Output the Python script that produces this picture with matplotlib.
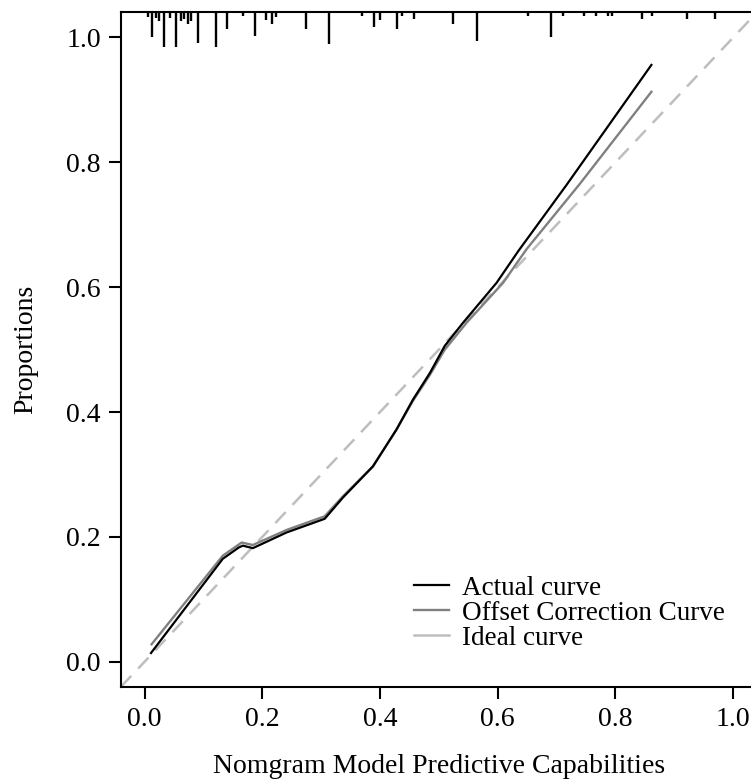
import matplotlib
matplotlib.use("Agg")
import matplotlib.pyplot as plt
import numpy as np

plt.rcParams['font.family'] = ['Liberation Serif', 'DejaVu Serif']

# calibration curves
actual_x = [0.011, 0.133, 0.160, 0.167, 0.184, 0.241, 0.306, 0.337, 0.388, 0.428,
            0.456, 0.485, 0.510, 0.541, 0.598, 0.635, 0.717, 0.861]
actual_y = [0.014, 0.165, 0.183, 0.186, 0.182, 0.207, 0.229, 0.263, 0.313, 0.372,
            0.420, 0.463, 0.506, 0.543, 0.607, 0.658, 0.764, 0.956]

offset_x = [0.012, 0.133, 0.165, 0.184, 0.241, 0.306, 0.337, 0.388, 0.428, 0.456,
            0.485, 0.510, 0.547, 0.609, 0.649, 0.739, 0.861]
offset_y = [0.028, 0.170, 0.191, 0.187, 0.211, 0.233, 0.265, 0.313, 0.372, 0.418,
            0.460, 0.500, 0.543, 0.607, 0.661, 0.765, 0.913]

# rug of predicted values along the top (position, relative frequency)
rug_x = [0.0056, 0.0124, 0.0199, 0.0243, 0.0323, 0.0425, 0.0527, 0.0617, 0.0663, 0.0731,
         0.0794, 0.0901, 0.1207, 0.1399, 0.1671, 0.1870, 0.2069, 0.2171, 0.2239, 0.2749,
         0.3128, 0.3700, 0.3898, 0.3995, 0.4289, 0.4380, 0.4572, 0.5241, 0.5648, 0.6515,
         0.6896, 0.7100, 0.7462, 0.7666, 0.7875, 0.7933, 0.8443, 0.8613, 0.9208, 0.9689]
rug_h = [0.007, 0.040, 0.009, 0.013, 0.055, 0.009, 0.055, 0.014, 0.010, 0.018,
         0.013, 0.049, 0.056, 0.026, 0.006, 0.037, 0.012, 0.018, 0.008, 0.027,
         0.050, 0.006, 0.024, 0.012, 0.026, 0.005, 0.010, 0.018, 0.046, 0.006,
         0.040, 0.005, 0.005, 0.005, 0.005, 0.005, 0.010, 0.005, 0.010, 0.010]

ticks = [0.0, 0.2, 0.4, 0.6, 0.8, 1.0]
lims = (-0.04, 1.04)

fig = plt.figure(figsize=(7.51, 7.81), dpi=100)
ax = fig.add_axes([0.1611, 0.1207, 0.8466, 0.8633])

ax.plot(lims, lims, color='#bebebe', lw=1.8, dashes=(6, 4), label='Ideal curve', zorder=1)
ax.plot(offset_x, offset_y, color='#808080', lw=1.7, label='Offset Correction Curve', zorder=2)
ax.plot(actual_x, actual_y, color='black', lw=1.6, label='Actual curve', zorder=3)

top = lims[1]
ax.vlines(rug_x, [top - h for h in rug_h], top, color='black', lw=1.7)

ax.set_xlim(lims)
ax.set_ylim(lims)
ax.set_xticks(ticks)
ax.set_yticks(ticks)
ax.set_xticklabels(['%.1f' % t for t in ticks])
ax.set_yticklabels(['%.1f' % t for t in ticks])
ax.tick_params(direction='out', length=8.5, width=1.5, labelsize=20, pad=6)
for s in ax.spines.values():
    s.set_linewidth(1.5)

ax.set_xlabel('Nomgram Model Predictive Capabilities', fontsize=20, labelpad=16)
ax.set_ylabel('Proportions', fontsize=20, labelpad=20)

h, l = ax.get_legend_handles_labels()
order = [2, 1, 0]
leg = ax.legend([h[i] for i in order], [l[i] for i in order], loc='center left',
                bbox_to_anchor=(0.422, 0.109), frameon=False, fontsize=19.5,
                handlelength=1.3, handletextpad=0.5, labelspacing=0.0)
for line in leg.get_lines():
    line.set_linestyle('-')

fig.savefig('out.png', dpi=100)
